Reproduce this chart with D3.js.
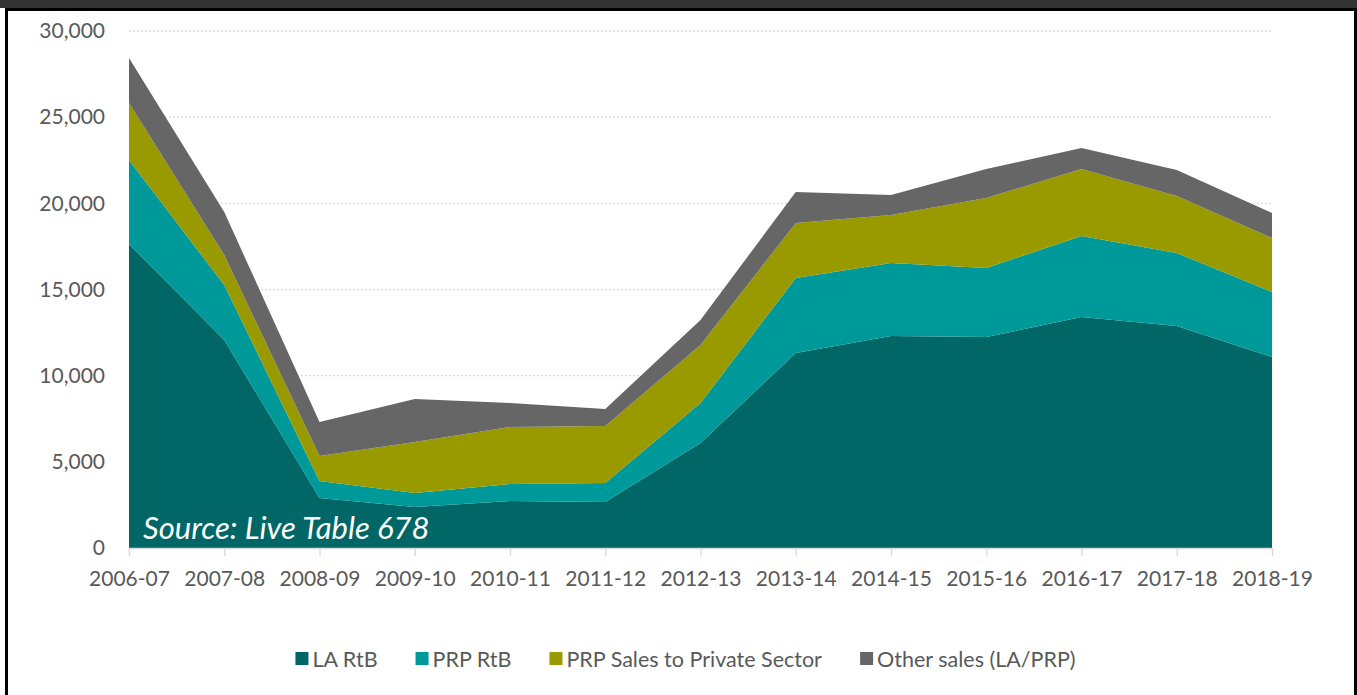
<!DOCTYPE html>
<html>
<head>
<meta charset="utf-8">
<script src="https://cdn.jsdelivr.net/npm/d3@7"></script>
<style>
  body { margin: 0; background: #fff; }
  svg text { font-family: Lato, "Open Sans", sans-serif; }
</style>
</head>
<body>
<div class="canvas"></div>
<script>
// data
const years = ["2006-07", "2007-08", "2008-09", "2009-10", "2010-11", "2011-12", "2012-13",
    "2013-14", "2014-15", "2015-16", "2016-17", "2017-18", "2018-19"]
const laRtb = [17640, 12070, 2900, 2380, 2730, 2670, 6090, 11320, 12300, 12240, 13400, 12880, 11080]
const prpRtb = [4870, 3190, 990, 810, 980, 1100, 2320, 4350, 4240, 4010, 4700, 4240, 3770]
const prpSales = [3310, 1740, 1450, 2960, 3310, 3310, 3370, 3190, 2780, 4060, 3890, 3310, 3140]
const otherSales = [2610, 2500, 1970, 2500, 1390, 990, 1450, 1800, 1160, 1680, 1220, 1500, 1450]
const seriesNames = ["LA RtB", "PRP RtB", "PRP Sales to Private Sector", "Other sales (LA/PRP)"]
const seriesColors = ["#006666", "#009999", "#999900", "#666666"]
const yTicks = [0, 5000, 10000, 15000, 20000, 25000, 30000]

const width = 1357
const height = 695
const margin = { left: 129, right: 85, top: 31, bottom: 147 }

const svg = d3.select(".canvas").append("svg")
    .attr("width", width)
    .attr("height", height)

// frame: dark strip on top, black border lines
svg.append("rect").attr("x", 0).attr("y", 0).attr("width", width).attr("height", 8).attr("fill", "#333333")
svg.append("rect").attr("x", 5).attr("y", 8).attr("width", width - 5).attr("height", 3).attr("fill", "#000")
svg.append("rect").attr("x", 5).attr("y", 8).attr("width", 3).attr("height", height).attr("fill", "#000")
svg.append("rect").attr("x", width - 3).attr("y", 8).attr("width", 3).attr("height", height).attr("fill", "#000")

const x = d3.scalePoint()
    .domain(years)
    .range([margin.left, width - margin.right])

const y = d3.scaleLinear()
    .domain([0, 30000])
    .range([height - margin.bottom, margin.top])

// gridlines
svg.append("g")
    .selectAll("line")
    .data(yTicks.filter(d => d > 0))
    .enter()
    .append("line")
    .attr("x1", margin.left)
    .attr("x2", width - margin.right)
    .attr("y1", d => y(d))
    .attr("y2", d => y(d))
    .attr("stroke", "#d9d9d9")
    .attr("stroke-width", 1.3)
    .attr("stroke-dasharray", "2,2")

// stack
const table = years.map((yr, i) => ({
    year: yr,
    "LA RtB": laRtb[i],
    "PRP RtB": prpRtb[i],
    "PRP Sales to Private Sector": prpSales[i],
    "Other sales (LA/PRP)": otherSales[i]
}))
const stacked = d3.stack().keys(seriesNames)(table)

const area = d3.area()
    .x(d => x(d.data.year))
    .y0(d => y(d[0]))
    .y1(d => y(d[1]))

svg.append("g")
    .selectAll("path")
    .data(stacked)
    .enter()
    .append("path")
    .attr("d", area)
    .attr("fill", (d, i) => seriesColors[i])

// x axis
const xAxis = svg.append("g")
    .attr("transform", `translate(0,${y(0)})`)
    .call(d3.axisBottom(x).tickSize(8).tickPadding(15))
xAxis.select(".domain").attr("stroke", "#d9d9d9").attr("stroke-width", 1.3)
xAxis.selectAll(".tick line").attr("stroke", "#d9d9d9").attr("stroke-width", 1.3)
xAxis.selectAll("text")
    .attr("fill", "#595959")
    .style("font-size", "21px")

// y axis labels
const yAxis = svg.append("g")
    .attr("transform", `translate(${margin.left},0)`)
    .call(d3.axisLeft(y).tickValues(yTicks).tickSize(0).tickPadding(24).tickFormat(d3.format(",")))
yAxis.select(".domain").remove()
yAxis.selectAll("text")
    .attr("fill", "#595959")
    .style("font-size", "21px")

// source note
svg.append("text")
    .attr("x", 143)
    .attr("y", 539)
    .attr("fill", "#fff")
    .style("font-size", "31px")
    .style("font-style", "italic")
    .text("Source: Live Table 678")

// legend
const legend = svg.append("g").attr("transform", "translate(0,659)")
const items = legend.selectAll("g")
    .data(seriesNames)
    .enter()
    .append("g")
items.append("rect")
    .attr("y", -7)
    .attr("width", 13)
    .attr("height", 13)
    .attr("fill", (d, i) => seriesColors[i])
items.append("text")
    .attr("x", 17)
    .attr("dy", "0.35em")
    .attr("fill", "#595959")
    .style("font-size", "21.5px")
    .text(d => d)

let widths = []
items.each(function () { widths.push(this.getBBox().width) })
const gap = 38
const total = d3.sum(widths) + gap * (widths.length - 1)
let pos = 293 + (785 - total) / 2
items.attr("transform", function (d, i) {
    const t = `translate(${pos},0)`
    pos += widths[i] + gap
    return t
})
</script>
</body>
</html>
